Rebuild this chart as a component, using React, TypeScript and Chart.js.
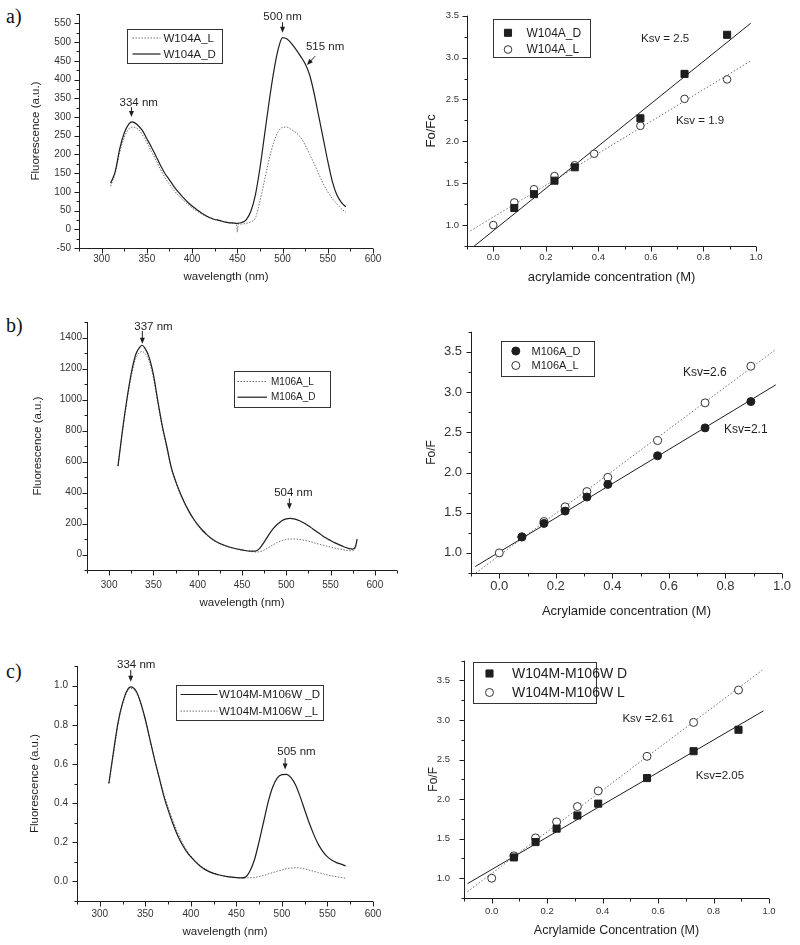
import React, { useEffect, useRef } from 'react';
import { Chart, registerables } from 'chart.js';
Chart.register(...registerables);

const SANS = '"Liberation Sans", Arial, Helvetica, sans-serif';
const SERIF = '"Liberation Serif", "Times New Roman", serif';
const DARK = '#1e1e1e';
const GRAY = '#707070';
const TICKC = '#333';

// ---------------- Panel a (W104A) ----------------
const A_WL_D = [310,315,320,325,330,334,340,345,350,355,360,365,370,375,380,385,390,395,400,405,410,415,420,425,430,435,440,445,450,455,460,465,470,475,480,485,490,495,500,505,510,515,520,525,530,535,540,545,550,555,560,565,570];
const A_SPEC_D = [123,154,215,257,281,287,278,264,242,220,196,171,149,132,114,99,85,73,62,53,44,37,31,26,24,20,18,17,16,18,26,48,92,163,250,338,417,479,512,508,496,480,462,442,412,362,302,242,182,128,92,72,60];
const A_WL_L = [310,315,320,325,330,334,340,345,350,355,360,365,370,375,380,385,390,395,400,405,410,415,420,425,430,435,440,445,449,450,451,455,460,465,470,475,480,485,490,495,500,505,510,515,520,525,530,535,540,545,550,555,560,565,570];
const A_SPEC_L = [115,150,205,245,268,273,268,253,232,208,185,160,138,120,104,90,78,67,57,49,42,35,30,26,23,20,18,16,15,-8,14,14,16,20,30,75,130,185,230,260,272,273,266,258,245,225,200,175,148,122,100,82,68,55,45];
const A_SPEC_XTICKS = [300,350,400,450,500,550,600];
const A_SPEC_YTICKS = [-50,0,50,100,150,200,250,300,350,400,450,500,550];

const A_CONC_D = [0.08,0.155,0.233,0.31,0.56,0.728,0.89];
const A_FOF_D = [1.204,1.369,1.53,1.69,2.275,2.805,3.272];
const A_CONC_L = [0,0.08,0.155,0.233,0.31,0.384,0.56,0.728,0.89];
const A_FOF_L = [1.0,1.27,1.428,1.585,1.714,1.852,2.185,2.507,2.739];
const A_FIT_D_X = [-0.074,0.98];
const A_FIT_D_Y = [0.745,3.41];
const A_FIT_L_X = [-0.087,0.98];
const A_FIT_L_Y = [0.93,2.96];
const A_SV_XTICKS = [0,0.2,0.4,0.6,0.8,1.0];
const A_SV_YTICKS = [1.0,1.5,2.0,2.5,3.0,3.5];

// ---------------- Panel b (M106A) ----------------
const B_WL = [310,315,320,325,330,335,337,340,345,350,355,360,365,370,375,380,385,390,395,400,405,410,415,420,430,440,450,460,465,470,475,480,485,490,495,500,504,510,515,520,525,530,535,540,545,550,555,560,565,570,575,578,580];
const B_SPEC_D = [570,800,1000,1170,1290,1340,1350,1335,1275,1160,990,830,700,565,475,400,335,280,232,192,158,130,105,86,60,42,30,22,22,40,80,125,165,195,218,230,233,228,218,203,185,165,145,125,106,90,75,62,50,40,35,50,100];
const B_SPEC_L = [570,790,985,1150,1265,1305,1310,1300,1250,1140,975,820,690,558,468,394,330,275,228,188,154,126,102,84,58,40,28,20,16,18,28,45,62,78,90,97,100,100,97,92,86,78,70,62,55,48,41,35,30,25,24,45,90];
const B_SPEC_XTICKS = [300,350,400,450,500,550,600];
const B_SPEC_YTICKS = [0,200,400,600,800,1000,1200,1400];

const B_CONC_D = [0.08,0.158,0.233,0.31,0.384,0.56,0.728,0.89];
const B_FOF_D = [1.198,1.367,1.52,1.695,1.852,2.208,2.555,2.882];
const B_CONC_L = [0,0.08,0.158,0.233,0.31,0.384,0.56,0.728,0.89];
const B_FOF_L = [1.0,1.2,1.39,1.573,1.763,1.94,2.397,2.866,3.322];
const B_FIT_D_X = [-0.085,0.978];
const B_FIT_D_Y = [0.83,3.09];
const B_FIT_L_X = [-0.083,0.978];
const B_FIT_L_Y = [0.75,3.53];
const B_SV_XTICKS = [0,0.2,0.4,0.6,0.8,1.0];
const B_SV_YTICKS = [1.0,1.5,2.0,2.5,3.0,3.5];

// ---------------- Panel c (W104M-M106W) ----------------
const C_WL = [310,315,320,325,330,334,340,345,350,355,360,365,370,375,380,385,390,395,400,410,420,430,440,450,455,460,465,470,475,480,485,490,495,500,505,510,515,520,525,530,535,540,545,550,555,560,565,570];
const C_SPEC_D = [0.5,0.66,0.81,0.91,0.975,0.993,0.971,0.912,0.828,0.727,0.626,0.534,0.441,0.365,0.298,0.239,0.192,0.155,0.125,0.079,0.05,0.034,0.024,0.019,0.018,0.022,0.054,0.113,0.205,0.306,0.407,0.483,0.529,0.545,0.547,0.53,0.492,0.433,0.365,0.298,0.239,0.189,0.152,0.125,0.108,0.096,0.088,0.079];
const C_SPEC_L = [0.5,0.65,0.8,0.905,0.968,0.985,0.965,0.905,0.822,0.725,0.628,0.54,0.452,0.38,0.315,0.255,0.205,0.163,0.13,0.082,0.052,0.035,0.025,0.02,0.019,0.018,0.019,0.02,0.025,0.03,0.038,0.045,0.052,0.058,0.065,0.068,0.07,0.068,0.064,0.058,0.052,0.045,0.039,0.033,0.028,0.024,0.02,0.016];
const C_SPEC_XTICKS = [300,350,400,450,500,550,600];
const C_SPEC_YTICKS = [0.0,0.2,0.4,0.6,0.8,1.0];

const C_CONC_D = [0.08,0.158,0.234,0.309,0.384,0.56,0.728,0.89];
const C_FOF_D = [1.263,1.457,1.627,1.793,1.943,2.266,2.606,2.877];
const C_CONC_L = [0,0.08,0.158,0.234,0.309,0.384,0.56,0.728,0.89];
const C_FOF_L = [1.0,1.283,1.51,1.712,1.906,2.104,2.541,2.97,3.379];
const C_FIT_D_X = [-0.0875,0.98];
const C_FIT_D_Y = [0.931,3.116];
const C_FIT_L_X = [-0.0875,0.98];
const C_FIT_L_Y = [0.83,3.642];
const C_SV_XTICKS = [0,0.2,0.4,0.6,0.8,1.0];
const C_SV_YTICKS = [1.0,1.5,2.0,2.5,3.0,3.5];

// ---------------- helpers ----------------
const zip = (xs: number[], ys: number[]) => xs.map((x, i) => ({ x, y: ys[i] }));

const specLine = (label: string, xs: number[], ys: number[], dotted: boolean) => ({
  label,
  data: zip(xs, ys),
  showLine: true,
  borderColor: dotted ? GRAY : DARK,
  borderWidth: dotted ? 1 : 1.2,
  borderDash: dotted ? [1.5, 1.5] : [],
  pointRadius: 0,
  cubicInterpolationMode: 'monotone',
  fill: false,
});
const fitLine = (xs: number[], ys: number[], dotted: boolean) => ({
  label: 'fit',
  data: zip(xs, ys),
  showLine: true,
  borderColor: dotted ? GRAY : DARK,
  borderWidth: 1,
  borderDash: dotted ? [1.5, 2] : [],
  pointRadius: 0,
  fill: false,
});
const marks = (label: string, xs: number[], ys: number[], style: string, filled: boolean, r: number) => ({
  label,
  data: zip(xs, ys),
  showLine: false,
  pointStyle: style,
  pointRadius: r,
  pointBackgroundColor: filled ? DARK : '#ffffff',
  pointBorderColor: filled ? DARK : '#333',
  pointBorderWidth: 1,
});

type AxisCfg = {
  min: number; max: number; ticks: number[]; minor: number; dec: number;
  font: number; pad: number; title: string; titleFont: number;
};
type LegendRow = { ds: number; text: string; y: number };
type PanelCfg = {
  rect: { l: number; t: number; r: number; b: number };
  yw: number; xh: number; pt: number; pr: number;
  x: AxisCfg; y: AxisCfg;
  datasets: any[];
  notes: { x: number; y: number; text: string; size: number }[];
  arrows: { x1: number; y1: number; x2: number; y2: number }[];
  legend: { dx: number; dy: number; w: number; h: number; font: number; kind: 'line' | 'point'; s1: number; s2: number; tx: number; rows: LegendRow[] };
};

function drawMarker(ctx: CanvasRenderingContext2D, ds: any, x: number, y: number) {
  ctx.save();
  ctx.fillStyle = ds.pointBackgroundColor;
  ctx.strokeStyle = ds.pointBorderColor;
  ctx.lineWidth = 1;
  ctx.beginPath();
  if (ds.pointStyle === 'rect') {
    const s = ds.pointRadius * Math.SQRT1_2;
    ctx.rect(x - s, y - s, 2 * s, 2 * s);
  } else {
    ctx.arc(x, y, ds.pointRadius, 0, Math.PI * 2);
  }
  ctx.fill();
  ctx.stroke();
  ctx.restore();
}

function makePlugin(cfg: PanelCfg) {
  return {
    id: 'originStyle',
    afterDraw(chart: any) {
      const ctx: CanvasRenderingContext2D = chart.ctx;
      const ca = chart.chartArea;
      const xs = chart.scales.x;
      const ys = chart.scales.y;
      ctx.save();
      ctx.strokeStyle = DARK;
      ctx.lineWidth = 1;
      const L = Math.round(ca.left) + 0.5;
      const B = Math.round(ca.bottom) + 0.5;
      ctx.beginPath();
      ctx.moveTo(L, ca.top);
      ctx.lineTo(L, B);
      ctx.lineTo(ca.right, B);
      ctx.stroke();
      // ticks (major with label, minor between)
      const isMajor = (v: number, arr: number[]) => arr.some((m) => Math.abs(m - v) < 1e-6);
      ctx.beginPath();
      const k0 = Math.ceil(cfg.x.min / cfg.x.minor - 1e-6);
      const k1 = Math.floor(cfg.x.max / cfg.x.minor + 1e-6);
      for (let k = k0; k <= k1; k++) {
        const v = k * cfg.x.minor;
        const px = Math.round(xs.getPixelForValue(v)) + 0.5;
        const len = isMajor(v, cfg.x.ticks) ? 5 : 3;
        ctx.moveTo(px, B);
        ctx.lineTo(px, B + len);
      }
      const j0 = Math.ceil(cfg.y.min / cfg.y.minor - 1e-6);
      const j1 = Math.floor(cfg.y.max / cfg.y.minor + 1e-6);
      for (let j = j0; j <= j1; j++) {
        const v = j * cfg.y.minor;
        const py = Math.round(ys.getPixelForValue(v)) + 0.5;
        const len = isMajor(v, cfg.y.ticks) ? 5 : 3;
        ctx.moveTo(L, py);
        ctx.lineTo(L - len, py);
      }
      ctx.stroke();
      // annotations
      ctx.fillStyle = DARK;
      ctx.textAlign = 'center';
      ctx.textBaseline = 'middle';
      cfg.notes.forEach((n) => {
        ctx.font = `${n.size}px ${SANS}`;
        ctx.fillText(n.text, xs.getPixelForValue(n.x), ys.getPixelForValue(n.y));
      });
      cfg.arrows.forEach((a) => {
        const x1 = xs.getPixelForValue(a.x1), y1 = ys.getPixelForValue(a.y1);
        const x2 = xs.getPixelForValue(a.x2), y2 = ys.getPixelForValue(a.y2);
        const ang = Math.atan2(y2 - y1, x2 - x1);
        ctx.beginPath();
        ctx.moveTo(x1, y1);
        ctx.lineTo(x2 - 3 * Math.cos(ang), y2 - 3 * Math.sin(ang));
        ctx.stroke();
        ctx.beginPath();
        ctx.moveTo(x2, y2);
        ctx.lineTo(x2 - 6 * Math.cos(ang) + 2.5 * Math.sin(ang), y2 - 6 * Math.sin(ang) - 2.5 * Math.cos(ang));
        ctx.lineTo(x2 - 6 * Math.cos(ang) - 2.5 * Math.sin(ang), y2 - 6 * Math.sin(ang) + 2.5 * Math.cos(ang));
        ctx.closePath();
        ctx.fill();
      });
      // legend box
      const lg = cfg.legend;
      const bx = Math.round(ca.left + lg.dx) + 0.5;
      const by = Math.round(ca.top + lg.dy) + 0.5;
      ctx.fillStyle = '#ffffff';
      ctx.fillRect(bx, by, lg.w, lg.h);
      ctx.strokeStyle = '#333';
      ctx.strokeRect(bx, by, lg.w, lg.h);
      lg.rows.forEach((row) => {
        const ds = chart.data.datasets[row.ds];
        const yy = by + row.y;
        if (lg.kind === 'line') {
          ctx.save();
          ctx.strokeStyle = ds.borderColor;
          ctx.lineWidth = ds.borderWidth;
          ctx.setLineDash(ds.borderDash || []);
          ctx.beginPath();
          ctx.moveTo(bx + lg.s1, yy);
          ctx.lineTo(bx + lg.s2, yy);
          ctx.stroke();
          ctx.restore();
        } else {
          drawMarker(ctx, ds, bx + lg.s1, yy);
        }
        ctx.fillStyle = DARK;
        ctx.font = `${lg.font}px ${SANS}`;
        ctx.textAlign = 'left';
        ctx.textBaseline = 'middle';
        ctx.fillText(row.text, bx + lg.tx, yy + 0.5);
      });
      ctx.restore();
    },
  };
}

function axisOptions(a: AxisCfg, isX: boolean, size: number) {
  return {
    type: 'linear',
    min: a.min,
    max: a.max,
    grid: { display: false, drawTicks: false },
    border: { display: false },
    afterBuildTicks: (s: any) => {
      s.ticks = a.ticks.map((v) => ({ value: v }));
    },
    afterFit: (s: any) => {
      if (isX) s.height = size;
      else s.width = size;
    },
    ticks: {
      autoSkip: false,
      maxRotation: 0,
      padding: a.pad,
      color: TICKC,
      font: { family: SANS, size: a.font },
      callback: (v: any) => Number(v).toFixed(a.dec),
    },
    title: {
      display: true,
      text: a.title,
      color: DARK,
      padding: 0,
      font: { family: SANS, size: a.titleFont },
    },
  };
}

function Panel({ cfg }: { cfg: PanelCfg }) {
  const ref = useRef<HTMLCanvasElement | null>(null);
  const w = Math.round(cfg.rect.r - cfg.rect.l + cfg.yw + cfg.pr);
  const h = Math.round(cfg.rect.b - cfg.rect.t + cfg.pt + cfg.xh);
  useEffect(() => {
    if (!ref.current) return;
    const chart = new Chart(ref.current, {
      type: 'scatter',
      data: { datasets: cfg.datasets },
      options: {
        animation: false,
        responsive: false,
        maintainAspectRatio: false,
        events: [],
        layout: { padding: { top: cfg.pt, right: cfg.pr, left: 0, bottom: 0 } },
        plugins: { legend: { display: false }, tooltip: { enabled: false } },
        scales: {
          x: axisOptions(cfg.x, true, cfg.xh),
          y: axisOptions(cfg.y, false, cfg.yw),
        },
      } as any,
      plugins: [makePlugin(cfg)],
    });
    return () => chart.destroy();
  }, []);
  return (
    <canvas
      ref={ref}
      width={w}
      height={h}
      style={{
        position: 'absolute',
        left: Math.round(cfg.rect.l - cfg.yw),
        top: Math.round(cfg.rect.t - cfg.pt),
        width: w,
        height: h,
      }}
    />
  );
}

// ---------------- panel configurations ----------------
const panels: PanelCfg[] = [
  {
    rect: { l: 79, t: 10, r: 373, b: 248 }, yw: 50, xh: 36, pt: 10, pr: 20,
    x: { min: 275, max: 600, ticks: A_SPEC_XTICKS, minor: 25, dec: 0, font: 10, pad: 5, title: 'wavelength (nm)', titleFont: 11.5 },
    y: { min: -50, max: 575, ticks: A_SPEC_YTICKS, minor: 25, dec: 0, font: 10, pad: 8, title: 'Fluorescence (a.u.)', titleFont: 11.5 },
    datasets: [
      specLine('W104A_D', A_WL_D, A_SPEC_D, false),
      specLine('W104A_L', A_WL_L, A_SPEC_L, true),
    ],
    notes: [
      { x: 500, y: 568, text: '500 nm', size: 11.5 },
      { x: 547, y: 488, text: '515 nm', size: 11.5 },
      { x: 341, y: 339, text: '334 nm', size: 11.5 },
    ],
    arrows: [
      { x1: 500, y1: 553, x2: 500, y2: 525 },
      { x1: 536, y1: 462, x2: 527, y2: 439 },
      { x1: 333, y1: 326, x2: 333, y2: 300 },
    ],
    legend: { dx: 48, dy: 15, w: 95, h: 34, font: 11.5, kind: 'line', s1: 5, s2: 33, tx: 36, rows: [
      { ds: 1, text: 'W104A_L', y: 8.5 },
      { ds: 0, text: 'W104A_D', y: 24.5 },
    ] },
  },
  {
    rect: { l: 467, t: 12, r: 756, b: 246 }, yw: 43, xh: 39, pt: 10, pr: 25,
    x: { min: -0.1, max: 1.0, ticks: A_SV_XTICKS, minor: 0.1, dec: 1, font: 9.5, pad: 6, title: 'acrylamide concentration (M)', titleFont: 13 },
    y: { min: 0.75, max: 3.5, ticks: A_SV_YTICKS, minor: 0.25, dec: 1, font: 9.5, pad: 8, title: 'Fo/Fc', titleFont: 13 },
    datasets: [
      marks('W104A_D', A_CONC_D, A_FOF_D, 'rect', true, 5),
      marks('W104A_L', A_CONC_L, A_FOF_L, 'circle', false, 3.8),
      fitLine(A_FIT_D_X, A_FIT_D_Y, false),
      fitLine(A_FIT_L_X, A_FIT_L_Y, true),
    ],
    notes: [
      { x: 0.654, y: 3.226, text: 'Ksv = 2.5', size: 11.5 },
      { x: 0.787, y: 2.25, text: 'Ksv = 1.9', size: 11.5 },
    ],
    arrows: [],
    legend: { dx: 26, dy: 3, w: 97, h: 38, font: 12, kind: 'point', s1: 14.5, s2: 0, tx: 33, rows: [
      { ds: 0, text: 'W104A_D', y: 13.3 },
      { ds: 1, text: 'W104A_L', y: 30 },
    ] },
  },
  {
    rect: { l: 87, t: 322, r: 397, b: 570 }, yw: 56, xh: 40, pt: 12, pr: 15,
    x: { min: 275, max: 625, ticks: B_SPEC_XTICKS, minor: 25, dec: 0, font: 10, pad: 9, title: 'wavelength (nm)', titleFont: 11.5 },
    y: { min: -100, max: 1500, ticks: B_SPEC_YTICKS, minor: 100, dec: 0, font: 10, pad: 5, title: 'Fluorescence (a.u.)', titleFont: 11.5 },
    datasets: [
      specLine('M106A_D', B_WL, B_SPEC_D, false),
      specLine('M106A_L', B_WL, B_SPEC_L, true),
    ],
    notes: [
      { x: 350, y: 1472, text: '337 nm', size: 11.5 },
      { x: 508, y: 398, text: '504 nm', size: 11.5 },
    ],
    arrows: [
      { x1: 337.5, y1: 1442, x2: 337.5, y2: 1360 },
      { x1: 503.5, y1: 362, x2: 503.5, y2: 292 },
    ],
    legend: { dx: 147, dy: 49, w: 96, h: 36, font: 10, kind: 'line', s1: 3, s2: 32.5, tx: 36.5, rows: [
      { ds: 1, text: 'M106A_L', y: 10 },
      { ds: 0, text: 'M106A_D', y: 25.7 },
    ] },
  },
  {
    rect: { l: 471, t: 325, r: 782, b: 573 }, yw: 47, xh: 46, pt: 10, pr: 15,
    x: { min: -0.1, max: 1.0, ticks: B_SV_XTICKS, minor: 0.1, dec: 1, font: 13, pad: 6, title: 'Acrylamide concentration (M)', titleFont: 13 },
    y: { min: 0.75, max: 3.75, ticks: B_SV_YTICKS, minor: 0.25, dec: 1, font: 13, pad: 9, title: 'Fo/F', titleFont: 12 },
    datasets: [
      marks('M106A_D', B_CONC_D, B_FOF_D, 'circle', true, 4),
      marks('M106A_L', B_CONC_L, B_FOF_L, 'circle', false, 4),
      fitLine(B_FIT_D_X, B_FIT_D_Y, false),
      fitLine(B_FIT_L_X, B_FIT_L_Y, true),
    ],
    notes: [
      { x: 0.727, y: 3.246, text: 'Ksv=2.6', size: 12 },
      { x: 0.872, y: 2.53, text: 'Ksv=2.1', size: 12 },
    ],
    arrows: [],
    legend: { dx: 30, dy: 9, w: 93, h: 35, font: 11, kind: 'point', s1: 14.3, s2: 0, tx: 30, rows: [
      { ds: 0, text: 'M106A_D', y: 9.5 },
      { ds: 1, text: 'M106A_L', y: 24 },
    ] },
  },
  {
    rect: { l: 77, t: 663, r: 373, b: 901 }, yw: 49, xh: 38, pt: 12, pr: 20,
    x: { min: 275, max: 600, ticks: C_SPEC_XTICKS, minor: 25, dec: 0, font: 10, pad: 7, title: 'wavelength (nm)', titleFont: 11.5 },
    y: { min: -0.1, max: 1.1, ticks: C_SPEC_YTICKS, minor: 0.1, dec: 1, font: 10, pad: 9, title: 'Fluorescence (a.u.)', titleFont: 11.5 },
    datasets: [
      specLine('W104M-M106W _D', C_WL, C_SPEC_D, false),
      specLine('W104M-M106W _L', C_WL, C_SPEC_L, true),
    ],
    notes: [
      { x: 340, y: 1.105, text: '334 nm', size: 11.5 },
      { x: 516, y: 0.66, text: '505 nm', size: 11.5 },
    ],
    arrows: [
      { x1: 334, y1: 1.08, x2: 334, y2: 1.02 },
      { x1: 503.5, y1: 0.63, x2: 503.5, y2: 0.572 },
    ],
    legend: { dx: 99, dy: 19, w: 147, h: 35, font: 11.5, kind: 'line', s1: 4, s2: 41, tx: 42.5, rows: [
      { ds: 0, text: 'W104M-M106W _D', y: 9 },
      { ds: 1, text: 'W104M-M106W _L', y: 25.6 },
    ] },
  },
  {
    rect: { l: 464, t: 651, r: 769, b: 898 }, yw: 38, xh: 40, pt: 10, pr: 20,
    x: { min: -0.1, max: 1.0, ticks: C_SV_XTICKS, minor: 0.1, dec: 1, font: 9.5, pad: 8, title: 'Acrylamide Concentration (M)', titleFont: 12.5 },
    y: { min: 0.75, max: 3.75, ticks: C_SV_YTICKS, minor: 0.25, dec: 1, font: 9.5, pad: 14, title: 'Fo/F', titleFont: 12 },
    datasets: [
      marks('W104M-M106W D', C_CONC_D, C_FOF_D, 'rect', true, 5),
      marks('W104M-M106W L', C_CONC_L, C_FOF_L, 'circle', false, 4),
      fitLine(C_FIT_D_X, C_FIT_D_Y, false),
      fitLine(C_FIT_L_X, C_FIT_L_Y, true),
    ],
    notes: [
      { x: 0.564, y: 3.021, text: 'Ksv =2.61', size: 11.5 },
      { x: 0.823, y: 2.292, text: 'Ksv=2.05', size: 11.5 },
    ],
    arrows: [],
    legend: { dx: 9, dy: 1, w: 123, h: 41, font: 14, kind: 'point', s1: 16, s2: 0, tx: 38.5, rows: [
      { ds: 0, text: 'W104M-M106W D', y: 11 },
      { ds: 1, text: 'W104M-M106W L', y: 30 },
    ] },
  },
];

const PANEL_LABELS = [
  { text: 'a)', top: 4 },
  { text: 'b)', top: 313 },
  { text: 'c)', top: 659 },
];

export default function App() {
  return (
    <div style={{ position: 'absolute', left: 0, top: 0, width: 800, height: 945, overflow: 'hidden', background: '#fff' }}>
      {PANEL_LABELS.map((p) => (
        <div
          key={p.text}
          style={{ position: 'absolute', left: 6, top: p.top, fontFamily: SERIF, fontSize: 20, color: '#111', lineHeight: '24px' }}
        >
          {p.text}
        </div>
      ))}
      {panels.map((cfg, i) => (
        <Panel key={i} cfg={cfg} />
      ))}
    </div>
  );
}
